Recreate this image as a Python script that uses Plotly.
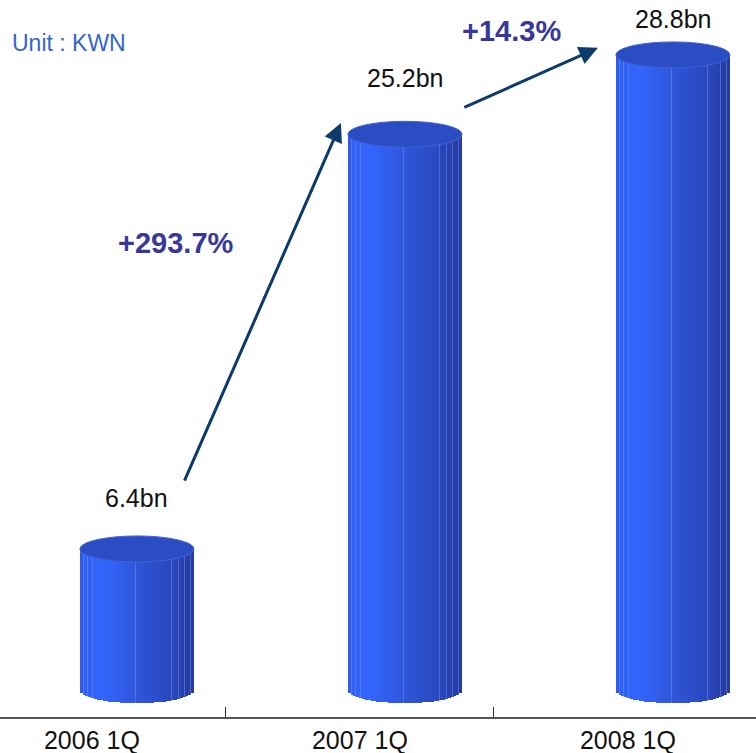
import numpy as np
import plotly.graph_objects as go

# Quarterly figures (KWN, billions)
quarters = ["2006 1Q", "2007 1Q", "2008 1Q"]
values = [6.4, 25.2, 28.8]
value_labels = ["6.4bn", "25.2bn", "28.8bn"]
growth_labels = ["+293.7%", "+14.3%"]

FONT = "Arial, Liberation Sans, sans-serif"

# cylinder geometry (data units)
CYL_OFFSET = 0.168     # cylinders sit right of the category centre
CYL_HALF_W = 0.213
CYL_HALF_H = 0.59      # semi-axis of the elliptical caps
N_STRIPS = 40

# body shading from left edge to right edge
grad_pos = [0.0, 0.04, 0.2, 0.5, 0.8, 1.0]
grad_rgb = np.array([
    [47, 90, 232],
    [49, 98, 246],
    [51, 102, 255],
    [46, 86, 216],
    [42, 72, 190],
    [37, 58, 156],
])
facet_edges = [0.03, 0.07, 0.11, 0.49, 0.8, 0.86, 0.92, 0.97]


def shade(t):
    return "rgb({},{},{})".format(*[int(round(np.interp(t, grad_pos, grad_rgb[:, k]))) for k in range(3)])


fig = go.Figure()

for i, v in enumerate(values):
    cx = i + CYL_OFFSET
    w = 2 * CYL_HALF_W / N_STRIPS
    t = (np.arange(N_STRIPS) + 0.5) / N_STRIPS
    xs = cx - CYL_HALF_W + t * 2 * CYL_HALF_W
    dx = (xs - cx) / CYL_HALF_W
    bases = -CYL_HALF_H * np.sqrt(np.clip(1 - dx ** 2, 0, 1))
    fig.add_trace(go.Bar(
        x=xs, y=v - bases, base=bases, width=[w * 1.08] * N_STRIPS,
        marker=dict(color=[shade(tt) for tt in t], line=dict(width=0)),
        hoverinfo="skip", showlegend=False,
    ))
    # thin lighter facet edges
    fe = np.array(facet_edges)
    fx = cx - CYL_HALF_W + fe * 2 * CYL_HALF_W
    fdx = (fx - cx) / CYL_HALF_W
    fb = -CYL_HALF_H * np.sqrt(np.clip(1 - fdx ** 2, 0, 1))
    fig.add_trace(go.Bar(
        x=fx, y=v - fb, base=fb, width=[0.0035] * len(fe),
        marker=dict(color="rgba(120,150,255,0.45)", line=dict(width=0)),
        hoverinfo="skip", showlegend=False,
    ))
    # top cap
    fig.add_shape(
        type="circle", xref="x", yref="y",
        x0=cx - CYL_HALF_W, x1=cx + CYL_HALF_W,
        y0=v - CYL_HALF_H, y1=v + CYL_HALF_H,
        fillcolor="#2B4DC3", line=dict(color="#3F63DA", width=1), layer="above",
    )

value_shift = [51, 56, 36]
for i, (v, lab) in enumerate(zip(values, value_labels)):
    fig.add_annotation(
        x=i + CYL_OFFSET, y=v, text=lab, showarrow=False, yshift=value_shift[i],
        font=dict(family=FONT, size=25, color="#111111"),
    )

# growth arrows (tip at x/y, tail at ax/ay)
arrows = [
    dict(x=0.929, y=25.71, ax=0.343, ay=9.43),
    dict(x=1.888, y=29.12, ax=1.384, ay=26.39),
]
for a in arrows:
    fig.add_annotation(
        x=a["x"], y=a["y"], ax=a["ax"], ay=a["ay"], xref="x", yref="y",
        axref="x", ayref="y", text="", showarrow=True, arrowhead=2,
        arrowsize=1.25, arrowwidth=3, arrowcolor="#0C3B6B", standoff=0,
    )

growth_pos = [(0.313, 20.27), (1.567, 29.89)]
for (gx, gy), lab in zip(growth_pos, growth_labels):
    fig.add_annotation(
        x=gx, y=gy, text="<b>" + lab + "</b>", showarrow=False,
        font=dict(family=FONT, size=29, color="#38389A"),
    )

fig.add_annotation(
    xref="paper", yref="paper", x=0.013, y=0.94, xanchor="left", yanchor="middle",
    text="Unit : KWN", showarrow=False,
    font=dict(family=FONT, size=23, color="#3366CC"),
)

# category-boundary tick marks on an overlaid axis
fig.add_trace(go.Scatter(x=[0.5, 1.5], y=[None, None], xaxis="x2", showlegend=False,
                         hoverinfo="skip"))

fig.update_layout(
    width=756, height=753,
    margin=dict(l=0, r=0, t=0, b=36),
    paper_bgcolor="white", plot_bgcolor="white",
    barmode="overlay", bargap=0,
    showlegend=False,
    xaxis=dict(
        range=[-0.343, 2.478], tickmode="array", tickvals=[0, 1, 2], ticktext=quarters,
        ticks="", showgrid=False, zeroline=False, showline=True,
        linecolor="#555555", linewidth=1.5,
        tickfont=dict(family=FONT, size=25, color="#111111"),
    ),
    xaxis2=dict(
        overlaying="x", anchor="y", side="bottom", range=[-0.343, 2.478],
        tickmode="array", tickvals=[0.5, 1.5], ticks="inside", ticklen=10,
        tickcolor="#333333", tickwidth=1, showticklabels=False,
        showgrid=False, zeroline=False, showline=False,
    ),
    yaxis=dict(range=[-1.22, 31.29], visible=False, showgrid=False, zeroline=False),
)

fig.write_html("out.html")
